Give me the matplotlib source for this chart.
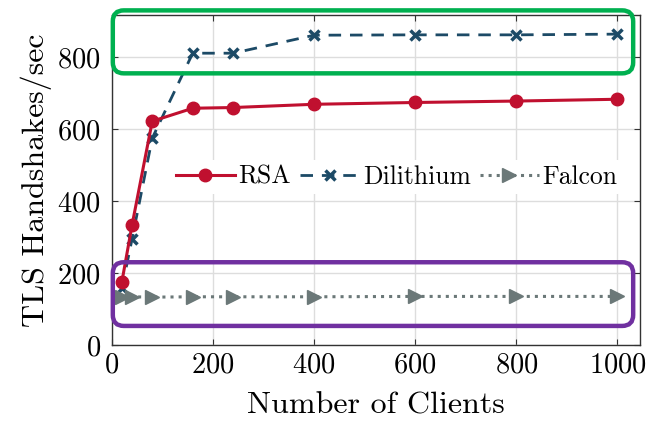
import matplotlib
matplotlib.use('Agg')
import matplotlib.pyplot as plt
from matplotlib.patches import FancyBboxPatch
from matplotlib.transforms import IdentityTransform
from matplotlib.font_manager import FontProperties

# data
clients = [20, 40, 80, 160, 240, 400, 600, 800, 1000]
rsa = [176, 333, 622, 658, 660, 669, 674, 678, 683]
dilithium = [158, 294, 575, 811, 811, 861, 862, 862, 864]
falcon = [134, 134, 133, 134, 134, 134, 135, 135, 135]

x_ticks = [0, 200, 400, 600, 800, 1000]
y_ticks = [0, 200, 400, 600, 800]

# highlight boxes (data coords: x0, y0, x1, y1)
green_box = (2, 755, 1031, 930)
purple_box = (2, 53, 1031, 230)

plt.rcParams['font.family'] = ['cmr10']
plt.rcParams['mathtext.fontset'] = 'cm'
plt.rcParams['axes.formatter.use_mathtext'] = True

fig = plt.figure(figsize=(6.5, 4.23), dpi=100)
ax = fig.add_axes([0.172, 0.1844, 0.813, 0.780])

ax.plot(clients, rsa, '-o', color='#C0102F', lw=2.2, ms=9, label='RSA', zorder=4)
ax.plot(clients, dilithium, '--x', color='#1C4A66', lw=2.0, ms=7, mew=2.5,
        dashes=(4.5, 3.2), label='Dilithium', zorder=3)
ax.plot(clients, falcon, ':>', color='#6B7878', lw=2.2, ms=10, label='Falcon', zorder=3)

ax.set_xlim(0, 1045)
ax.set_ylim(0, 917)
ax.set_xticks(x_ticks)
ax.set_yticks(y_ticks)
ax.grid(True, color='#DDDDDD', lw=1.0)
ax.set_axisbelow(True)
ax.tick_params(direction='in', top=True, right=True, labelsize=20.5, length=4,
               color='#333333')
ax.tick_params(axis='x', pad=5)
ax.tick_params(axis='y', pad=8)
for s in ax.spines.values():
    s.set_color('#333333')
    s.set_linewidth(1.0)

ax.set_xlabel('Number of Clients', fontsize=23, labelpad=10)
ax.set_ylabel('TLS Handshakes/sec', fontsize=23, labelpad=4)

leg_font = FontProperties(family='cmr10', size=18.5)
leg = ax.legend(ncol=3, loc='center', bbox_to_anchor=(0.539, 0.509), frameon=True,
                prop=leg_font, handlelength=2.3, columnspacing=0.35, handletextpad=0.15,
                borderpad=0.2, facecolor='white', edgecolor='none', framealpha=1.0)
leg.set_zorder(5)

# rounded highlight boxes, drawn in pixel space so the corners stay round
for (x0, y0, x1, y1), c in [(green_box, '#00B050'), (purple_box, '#7030A0')]:
    (px0, py0), (px1, py1) = ax.transData.transform([(x0, y0), (x1, y1)])
    box = FancyBboxPatch((px0, py0), px1 - px0, py1 - py0,
                         boxstyle='round,pad=0,rounding_size=11',
                         transform=IdentityTransform(), fill=False, edgecolor=c,
                         lw=3.2, zorder=6)
    fig.add_artist(box)

fig.savefig('out.png', dpi=100)
